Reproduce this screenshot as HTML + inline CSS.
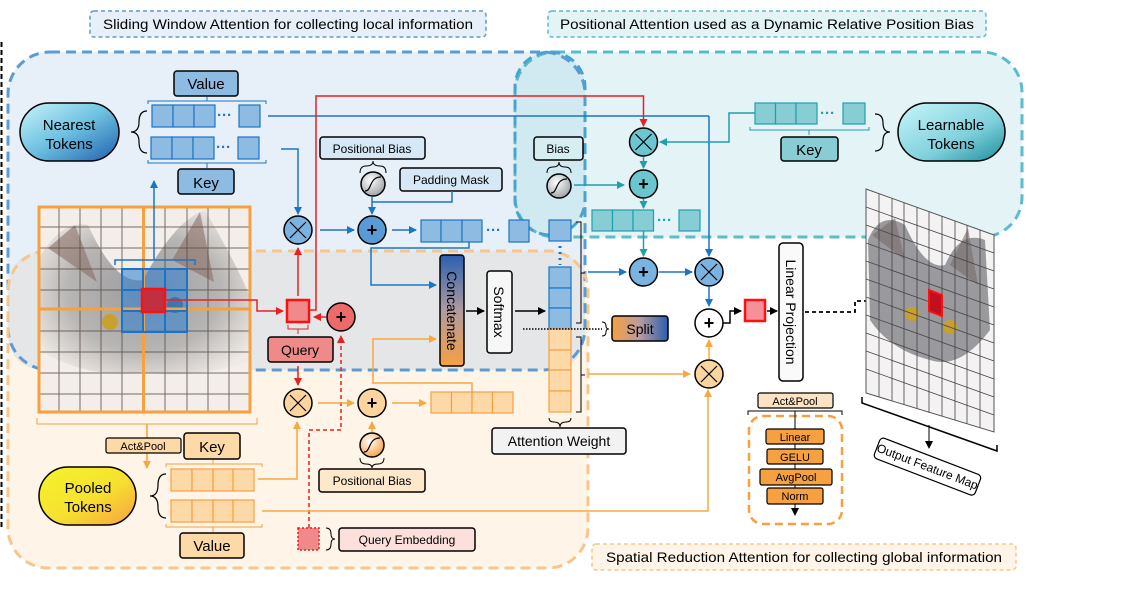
<!DOCTYPE html>
<html><head><meta charset="utf-8"><style>
html,body{margin:0;padding:0;background:#fff;}
svg{display:block;font-family:"Liberation Sans",sans-serif;}
</style></head><body>
<svg width="1124" height="595" viewBox="0 0 1124 595" xmlns="http://www.w3.org/2000/svg">
<defs>
<marker id="ab" markerWidth="8" markerHeight="8" refX="7" refY="4" orient="auto" markerUnits="userSpaceOnUse"><path d="M0,0L8,4L0,8z" fill="#1b75c4"/></marker>
<marker id="ar" markerWidth="8" markerHeight="8" refX="7" refY="4" orient="auto" markerUnits="userSpaceOnUse"><path d="M0,0L8,4L0,8z" fill="#e82020"/></marker>
<marker id="ao" markerWidth="8" markerHeight="8" refX="7" refY="4" orient="auto" markerUnits="userSpaceOnUse"><path d="M0,0L8,4L0,8z" fill="#f7a840"/></marker>
<marker id="at" markerWidth="8" markerHeight="8" refX="7" refY="4" orient="auto" markerUnits="userSpaceOnUse"><path d="M0,0L8,4L0,8z" fill="#1fa0ac"/></marker>
<marker id="ak" markerWidth="8" markerHeight="8" refX="7" refY="4" orient="auto" markerUnits="userSpaceOnUse"><path d="M0,0L8,4L0,8z" fill="#000"/></marker>
<linearGradient id="gn" x1="0" y1="0" x2="1" y2="1"><stop offset="0" stop-color="#c8f4fb"/><stop offset="0.5" stop-color="#6cc0e0"/><stop offset="1" stop-color="#1f5fae"/></linearGradient>
<linearGradient id="gl" x1="0" y1="0" x2="1" y2="1"><stop offset="0" stop-color="#c8f6fa"/><stop offset="0.6" stop-color="#7fd0dc"/><stop offset="1" stop-color="#1a8c99"/></linearGradient>
<linearGradient id="gp" x1="0" y1="0" x2="1" y2="1"><stop offset="0" stop-color="#f4f42a"/><stop offset="0.55" stop-color="#f7e030"/><stop offset="1" stop-color="#f7a040"/></linearGradient>
<linearGradient id="gc" x1="0" y1="0" x2="0" y2="1"><stop offset="0" stop-color="#2a5fae"/><stop offset="0.5" stop-color="#b09aa0"/><stop offset="1" stop-color="#f7a040"/></linearGradient>
<linearGradient id="gs" x1="0" y1="0" x2="1" y2="0"><stop offset="0" stop-color="#f7a040"/><stop offset="0.5" stop-color="#b89aa0"/><stop offset="1" stop-color="#2a5fae"/></linearGradient>
<radialGradient id="cat" cx="0.5" cy="0.5" r="0.6"><stop offset="0" stop-color="#9a9a9e"/><stop offset="0.6" stop-color="#b8b6b4"/><stop offset="1" stop-color="#efeae6"/></radialGradient>
<radialGradient id="sig" cx="0.4" cy="0.35" r="0.7"><stop offset="0" stop-color="#fff"/><stop offset="1" stop-color="#9aa0a4"/></radialGradient>
<radialGradient id="sigo" cx="0.4" cy="0.35" r="0.7"><stop offset="0" stop-color="#fff"/><stop offset="1" stop-color="#f7a040"/></radialGradient>
</defs>

<line x1="1.5" y1="42" x2="1.5" y2="530" stroke="#000" stroke-width="2" stroke-dasharray="5,3"/>

<!-- regions -->
<rect x="8" y="52" width="577" height="318" rx="42" fill="#e7f0f8"/>
<rect x="8" y="251" width="580" height="317" rx="40" fill="#fef4e7"/>
<path d="M8,330 L8,291 Q8,251 48,251 L548,251 Q585,251 585,291 L585,330 Q585,370 545,370 L48,370 Q8,370 8,330 Z" fill="#e4e6e8"/>
<rect x="515" y="52" width="507" height="185" rx="40" fill="#e3f3f6"/>
<rect x="515" y="52" width="70" height="183" rx="35" fill="#d1e9f1"/>
<rect x="8" y="52" width="577" height="318" rx="42" fill="none" stroke="#5b9bd5" stroke-width="3" stroke-dasharray="10,6"/>
<rect x="8" y="251" width="580" height="317" rx="40" fill="none" stroke="#f6c68c" stroke-width="3" stroke-dasharray="10,6"/>
<rect x="515" y="52" width="507" height="185" rx="40" fill="none" stroke="#5bbcc8" stroke-width="3" stroke-dasharray="10,6"/>
<rect x="515" y="52" width="70" height="183" rx="35" fill="none" stroke="#4aa3cf" stroke-width="3" stroke-dasharray="10,6"/>

<!-- titles -->
<rect x="90" y="11" width="396" height="26" rx="4" fill="#e7f0f8" stroke="#5b9bd5" stroke-width="1.5" stroke-dasharray="4,3"/>
<text x="288" y="29" font-size="14" text-anchor="middle" textLength="370" lengthAdjust="spacingAndGlyphs">Sliding Window Attention for collecting local information</text>
<rect x="548" y="11" width="438" height="26" rx="4" fill="#e3f3f6" stroke="#5bbcc8" stroke-width="1.5" stroke-dasharray="4,3"/>
<text x="767" y="29" font-size="14" text-anchor="middle" textLength="414" lengthAdjust="spacingAndGlyphs">Positional Attention used as a Dynamic Relative Position Bias</text>
<rect x="592" y="544" width="424" height="26" rx="4" fill="#fef4e7" stroke="#f6c68c" stroke-width="1.5" stroke-dasharray="4,3"/>
<text x="804" y="562" font-size="14" text-anchor="middle" textLength="396" lengthAdjust="spacingAndGlyphs">Spatial Reduction Attention for collecting global information</text>

<!-- input cat image -->
<rect x="38" y="206" width="213" height="207" fill="#f3eeea"/>
<path d="M38,260 Q60,220 88,225 Q115,285 143,280 Q175,220 205,210 Q240,270 251,300 L251,360 Q200,380 143,372 Q90,380 38,350 Z" fill="url(#cat)"/>
<path d="M48,248 L75,225 L97,282 Z M172,260 L200,212 L214,282 Z" fill="#8a6e68" opacity="0.6"/>
<circle cx="110" cy="322" r="8" fill="#c8a030"/><circle cx="175" cy="305" r="8" fill="#3a6a7a"/>
<g stroke="#5a4a40" stroke-width="1" opacity="0.8">
<path d="M59,206V413M80,206V413M101,206V413M122,206V413M165,206V413M187,206V413M208,206V413M229,206V413"/>
<path d="M38,227H251M38,248H251M38,269H251M38,290H251M38,331H251M38,352H251M38,373H251M38,394H251"/>
</g>
<rect x="122" y="269" width="65" height="63" fill="#3a84d0" opacity="0.6"/>
<rect x="39" y="207" width="211" height="205" fill="none" stroke="#f7a040" stroke-width="3"/>
<line x1="143.5" y1="207" x2="143.5" y2="412" stroke="#f7a040" stroke-width="3"/>
<line x1="39" y1="309" x2="250" y2="309" stroke="#f7a040" stroke-width="3"/>
<g stroke="#1b75c4" stroke-width="2" fill="none"><rect x="122" y="269" width="65" height="63"/><path d="M143,269V332M165,269V332M122,290H187M122,311H187"/></g>
<rect x="142" y="289" width="23" height="23" fill="#c03040" stroke="#ff1010" stroke-width="2.5"/>
<path d="M37,418V424H257V418" fill="none" stroke="#f7a040" stroke-width="1"/>
<path d="M115,265V260H195V265" fill="none" stroke="#1b75c4" stroke-width="1.5"/>
<line x1="154" y1="260" x2="154" y2="181" stroke="#1b75c4" stroke-width="1.5" marker-end="url(#ab)"/>
<line x1="147" y1="424" x2="147" y2="468" stroke="#f7a040" stroke-width="1.5" marker-end="url(#ao)"/>

<!-- Nearest tokens -->
<rect x="20" y="103" width="99" height="58" rx="29" fill="url(#gn)" stroke="#000" stroke-width="1.5"/>
<text x="69" y="130" font-size="15" text-anchor="middle">Nearest</text>
<text x="69" y="149" font-size="15" text-anchor="middle">Tokens</text>
<path d="M147,111 Q139,111 139,122 Q139,132 131,132 Q139,132 139,142 Q139,153 147,153" fill="none" stroke="#000" stroke-width="1.2"/>
<rect x="174" y="71" width="64" height="25" rx="3" fill="#8dbbe2" stroke="#000" stroke-width="1.5"/>
<text x="206" y="89" font-size="15" text-anchor="middle">Value</text>
<rect x="178" y="169" width="56" height="25" rx="3" fill="#8dbbe2" stroke="#000" stroke-width="1.5"/>
<text x="206" y="188" font-size="15" text-anchor="middle">Key</text>
<path d="M148,104V101H266V104M207,101V97" fill="none" stroke="#1b75c4" stroke-width="1"/>
<path d="M148,160V163H266V160M207,163V168" fill="none" stroke="#1b75c4" stroke-width="1"/>
<g fill="#8dbbe2" stroke="#1b75c4" stroke-width="1.2">
<rect x="152" y="105" width="21" height="22"/><rect x="173" y="105" width="21" height="22"/><rect x="194" y="105" width="21" height="22"/><rect x="239" y="105" width="21" height="22"/>
<rect x="151" y="137" width="21" height="22"/><rect x="172" y="137" width="21" height="22"/><rect x="193" y="137" width="21" height="22"/><rect x="238" y="137" width="21" height="22"/>
</g>
<text x="217" y="120" font-size="15" fill="#1b75c4" font-weight="bold">···</text>
<text x="216" y="152" font-size="15" fill="#1b75c4" font-weight="bold">···</text>

<!-- blue path -->
<line x1="268" y1="116" x2="709" y2="116" stroke="#1b75c4" stroke-width="1.5"/>
<path d="M709,116V256" fill="none" stroke="#1b75c4" stroke-width="1.5" marker-end="url(#ab)"/>
<path d="M281,149H298V214" fill="none" stroke="#1b75c4" stroke-width="1.5" marker-end="url(#ab)"/>
<circle cx="298" cy="230" r="14" fill="#7ab3e0" stroke="#000" stroke-width="1.5"/>
<path d="M290,222L306,238M306,222L290,238" stroke="#000" stroke-width="1.2"/>
<line x1="320" y1="230" x2="354" y2="230" stroke="#1b75c4" stroke-width="1.5" marker-end="url(#ab)"/>
<circle cx="372" cy="230" r="14" fill="#5b9bd5" stroke="#000" stroke-width="1.5"/>
<text x="372" y="236" font-size="18" text-anchor="middle" font-weight="bold">+</text>
<line x1="392" y1="230" x2="416" y2="230" stroke="#1b75c4" stroke-width="1.5" marker-end="url(#ab)"/>
<g fill="#8dbbe2" stroke="#1b75c4" stroke-width="1.2">
<rect x="421" y="220" width="20" height="22"/><rect x="441" y="220" width="21" height="22"/><rect x="462" y="220" width="20" height="22"/><rect x="509" y="220" width="20" height="22"/>
</g>
<text x="486" y="235" font-size="15" fill="#1b75c4" font-weight="bold">···</text>

<!-- Positional Bias / Padding Mask top -->
<rect x="320" y="137" width="105" height="22" rx="3" fill="#d6e8f6" stroke="#000" stroke-width="1.5"/>
<text x="372" y="153" font-size="12" text-anchor="middle">Positional Bias</text>
<path d="M360,173 Q360,166 366,166 Q373,166 373,161 Q373,166 380,166 Q386,166 386,173" fill="none" stroke="#000" stroke-width="1"/>
<circle cx="373" cy="184" r="12" fill="url(#sig)" stroke="#000" stroke-width="1.5"/>
<path d="M365,191 C372,191 369,177 381,177" fill="none" stroke="#000" stroke-width="1.2"/>
<rect x="400" y="168" width="102" height="23" rx="3" fill="#d6e8f6" stroke="#000" stroke-width="1.5"/>
<text x="451" y="184" font-size="12" text-anchor="middle">Padding Mask</text>
<path d="M452,191V202H372" fill="none" stroke="#1b75c4" stroke-width="1.5"/>
<line x1="372" y1="197" x2="372" y2="214" stroke="#1b75c4" stroke-width="1.5" marker-end="url(#ab)"/>

<path d="M469,242V248H371V285H436" fill="none" stroke="#1b75c4" stroke-width="1.5" marker-end="url(#ab)"/>

<!-- Query & red -->
<path d="M165,300H257V311H283" fill="none" stroke="#e82020" stroke-width="1.5" marker-end="url(#ar)"/>
<rect x="287" y="300" width="22" height="22" fill="#f08a8a" stroke="#ff1010" stroke-width="2.5"/>
<line x1="298" y1="296" x2="298" y2="248" stroke="#e82020" stroke-width="1.5" marker-end="url(#ar)"/>
<path d="M310,310H316V96H643.5V126" fill="none" stroke="#e82020" stroke-width="1.5" marker-end="url(#ar)"/>
<circle cx="341" cy="317" r="14" fill="#ec6a6a" stroke="#000" stroke-width="1.5"/>
<text x="341" y="323" font-size="18" text-anchor="middle" font-weight="bold">+</text>
<line x1="326" y1="317" x2="314" y2="317" stroke="#e82020" stroke-width="1.5" marker-end="url(#ar)"/>
<path d="M288,325V329H308V325M298,329V334" fill="none" stroke="#e82020" stroke-width="1"/>
<rect x="268" y="337" width="65" height="25" rx="3" fill="#ee8a8a" stroke="#000" stroke-width="1.5"/>
<text x="300" y="355" font-size="14" text-anchor="middle">Query</text>
<line x1="298" y1="366" x2="298" y2="385" stroke="#e82020" stroke-width="1.5" marker-end="url(#ar)"/>
<path d="M309,528V430H341V336" fill="none" stroke="#e82020" stroke-width="1.5" stroke-dasharray="4,3" marker-end="url(#ar)"/>

<!-- orange path -->
<circle cx="298" cy="403" r="14" fill="#fcd59e" stroke="#000" stroke-width="1.5"/>
<path d="M290,395L306,411M306,395L290,411" stroke="#000" stroke-width="1.2"/>
<line x1="318" y1="403" x2="354" y2="403" stroke="#f7a840" stroke-width="1.5" marker-end="url(#ao)"/>
<circle cx="372" cy="403" r="14" fill="#fcd59e" stroke="#000" stroke-width="1.5"/>
<text x="372" y="409" font-size="18" text-anchor="middle" font-weight="bold">+</text>
<line x1="392" y1="403" x2="426" y2="403" stroke="#f7a840" stroke-width="1.5" marker-end="url(#ao)"/>
<g fill="#fdd9a8" stroke="#f7a040" stroke-width="1.2">
<rect x="431" y="392" width="20.5" height="21"/><rect x="451.5" y="392" width="20.5" height="21"/><rect x="472" y="392" width="20.5" height="21"/><rect x="492.5" y="392" width="20.5" height="21"/>
</g>
<path d="M472,392V383H373V339H436" fill="none" stroke="#f7a840" stroke-width="1.5" marker-end="url(#ao)"/>
<line x1="372" y1="432" x2="372" y2="422" stroke="#f7a840" stroke-width="1.5" marker-end="url(#ao)"/>
<circle cx="372" cy="445" r="12" fill="url(#sigo)" stroke="#000" stroke-width="1.5"/>
<path d="M364,452 C371,452 368,438 380,438" fill="none" stroke="#000" stroke-width="1.2"/>
<path d="M360,458 Q360,464 366,464 Q372,464 372,468 Q372,464 378,464 Q384,464 384,458" fill="none" stroke="#000" stroke-width="1"/>
<rect x="319" y="469" width="106" height="23" rx="3" fill="#fde8cc" stroke="#000" stroke-width="1.5"/>
<text x="372" y="485" font-size="12" text-anchor="middle">Positional Bias</text>
<path d="M258,479H297V422" fill="none" stroke="#f7a840" stroke-width="1.5" marker-end="url(#ao)"/>

<!-- Pooled tokens -->
<rect x="39" y="467" width="97" height="58" rx="29" fill="url(#gp)" stroke="#000" stroke-width="1.5"/>
<text x="88" y="493" font-size="15" text-anchor="middle">Pooled</text>
<text x="88" y="512" font-size="15" text-anchor="middle">Tokens</text>
<path d="M166,474 Q158,474 158,485 Q158,496 150,496 Q158,496 158,507 Q158,518 166,518" fill="none" stroke="#000" stroke-width="1.2"/>
<rect x="106" y="438" width="75" height="15" rx="2" fill="#fdd9a8" stroke="#000" stroke-width="1.2"/>
<text x="143" y="450" font-size="11" text-anchor="middle">Act&amp;Pool</text>
<rect x="184" y="433" width="56" height="26" rx="3" fill="#fdd9a8" stroke="#000" stroke-width="1.5"/>
<text x="212" y="452" font-size="15" text-anchor="middle">Key</text>
<path d="M166,467V464H262V467M213,464V460" fill="none" stroke="#f7a040" stroke-width="1"/>
<g fill="#fdd9a8" stroke="#f7a040" stroke-width="1.2">
<rect x="171" y="469" width="21" height="22"/><rect x="192" y="469" width="21" height="22"/><rect x="213" y="469" width="20" height="22"/><rect x="233" y="469" width="21" height="22"/>
<rect x="171" y="500" width="21" height="22"/><rect x="192" y="500" width="21" height="22"/><rect x="213" y="500" width="20" height="22"/><rect x="233" y="500" width="21" height="22"/>
</g>
<path d="M166,524V527H262V524M213,527V532" fill="none" stroke="#f7a040" stroke-width="1"/>
<rect x="180" y="533" width="64" height="25" rx="3" fill="#fdd9a8" stroke="#000" stroke-width="1.5"/>
<text x="212" y="551" font-size="15" text-anchor="middle">Value</text>
<path d="M262,511H708V390" fill="none" stroke="#f7a840" stroke-width="1.5" marker-end="url(#ao)"/>

<!-- Query embedding -->
<rect x="298" y="528" width="21" height="22" fill="#f08a8a" stroke="#e82020" stroke-width="1.5" stroke-dasharray="2,2"/>
<path d="M326,528 Q331,528 331,534 Q331,539 335,539 Q331,539 331,544 Q331,550 326,550" fill="none" stroke="#000" stroke-width="1"/>
<rect x="339" y="528" width="136" height="23" rx="3" fill="#fde0dc" stroke="#000" stroke-width="1.5"/>
<text x="407" y="544" font-size="12" text-anchor="middle">Query Embedding</text>

<!-- Concatenate / Softmax -->
<rect x="440" y="255" width="24" height="111" rx="3" fill="url(#gc)" stroke="#000" stroke-width="1.5"/>
<text transform="translate(447,311) rotate(90)" font-size="14" text-anchor="middle">Concatenate</text>
<line x1="466" y1="311" x2="484" y2="311" stroke="#000" stroke-width="1.5" marker-end="url(#ak)"/>
<rect x="487" y="271" width="25" height="82" rx="3" fill="#f7f7f7" stroke="#000" stroke-width="1.5"/>
<text transform="translate(494,312) rotate(90)" font-size="14" text-anchor="middle">Softmax</text>
<line x1="515" y1="311" x2="545" y2="311" stroke="#000" stroke-width="1.5" marker-end="url(#ak)"/>

<!-- attention weight column -->
<g fill="#8dbbe2" stroke="#1b75c4" stroke-width="1.2">
<rect x="549" y="220" width="22" height="21"/>
<rect x="549" y="267" width="22" height="21"/><rect x="549" y="288" width="22" height="20"/><rect x="549" y="308" width="22" height="21"/>
</g>
<line x1="560" y1="246" x2="560" y2="265" stroke="#1b75c4" stroke-width="3" stroke-dasharray="2,4"/>
<g fill="#fdd9a8" stroke="#f7a040" stroke-width="1.2">
<rect x="549" y="329" width="22" height="21"/><rect x="549" y="350" width="22" height="20"/><rect x="549" y="370" width="22" height="21"/><rect x="549" y="391" width="22" height="21"/>
</g>
<path d="M576,222H581V323H576M581,273H585" fill="none" stroke="#000" stroke-width="1"/>
<path d="M576,337H581V412H576M581,375H585" fill="none" stroke="#000" stroke-width="1"/>
<path d="M549,418 Q549,422 554,422 Q560,422 560,427 Q560,422 566,422 Q571,422 571,418" fill="none" stroke="#000" stroke-width="1"/>
<rect x="492" y="428" width="134" height="26" rx="3" fill="#f2f2f2" stroke="#000" stroke-width="1.5"/>
<text x="559" y="446" font-size="14" text-anchor="middle">Attention Weight</text>
<line x1="523" y1="329" x2="602" y2="329" stroke="#000" stroke-width="1.5" stroke-dasharray="1.5,1.5"/>
<path d="M602,322 Q606,322 606,326 Q606,329 609,329 Q606,329 606,332 Q606,336 602,336" fill="none" stroke="#000" stroke-width="1"/>
<rect x="612" y="316" width="56" height="25" rx="3" fill="url(#gs)" stroke="#000" stroke-width="1.5"/>
<text x="640" y="334" font-size="14" text-anchor="middle">Split</text>
<line x1="588" y1="272" x2="626" y2="272" stroke="#1b75c4" stroke-width="1.5" marker-end="url(#ab)"/>
<line x1="588" y1="374" x2="690" y2="374" stroke="#f7a840" stroke-width="1.5" marker-end="url(#ao)"/>

<!-- teal part -->
<rect x="534" y="137" width="49" height="23" rx="3" fill="#d6eef2" stroke="#000" stroke-width="1.5"/>
<text x="558" y="153" font-size="12" text-anchor="middle">Bias</text>
<path d="M547,173 Q547,167 553,167 Q559,167 559,162 Q559,167 565,167 Q571,167 571,173" fill="none" stroke="#000" stroke-width="1"/>
<circle cx="559" cy="186" r="12" fill="url(#sig)" stroke="#000" stroke-width="1.5"/>
<path d="M551,193 C558,193 555,179 567,179" fill="none" stroke="#000" stroke-width="1.2"/>
<line x1="574" y1="185" x2="624" y2="185" stroke="#1fa0ac" stroke-width="1.5" marker-end="url(#at)"/>
<circle cx="643.5" cy="142" r="14" fill="#6cc6d0" stroke="#000" stroke-width="1.5"/>
<path d="M635.5,134L651.5,150M651.5,134L635.5,150" stroke="#000" stroke-width="1.2"/>
<line x1="643.5" y1="157" x2="643.5" y2="168" stroke="#1fa0ac" stroke-width="1.5" marker-end="url(#at)"/>
<circle cx="643.5" cy="184" r="14" fill="#6cc6d0" stroke="#000" stroke-width="1.5"/>
<text x="643.5" y="190" font-size="18" text-anchor="middle" font-weight="bold">+</text>
<line x1="643.5" y1="199" x2="643.5" y2="208" stroke="#1fa0ac" stroke-width="1.5" marker-end="url(#at)"/>
<g fill="#88ccd4" stroke="#1fa0ac" stroke-width="1.2">
<rect x="592" y="210" width="20.5" height="21"/><rect x="612.5" y="210" width="20.5" height="21"/><rect x="633" y="210" width="20.5" height="21"/><rect x="679" y="210" width="21" height="21"/>
</g>
<text x="657" y="225" font-size="15" fill="#1fa0ac" font-weight="bold">···</text>
<line x1="643.5" y1="231" x2="643.5" y2="256" stroke="#1fa0ac" stroke-width="1.5" marker-end="url(#at)"/>
<path d="M755,113H729V142H660" fill="none" stroke="#1fa0ac" stroke-width="1.5" marker-end="url(#at)"/>
<g fill="#88ccd4" stroke="#1fa0ac" stroke-width="1.2">
<rect x="755" y="103" width="20.5" height="21"/><rect x="775.5" y="103" width="20.5" height="21"/><rect x="796" y="103" width="21" height="21"/><rect x="843" y="103" width="22" height="21"/>
</g>
<text x="820" y="118" font-size="15" fill="#1fa0ac" font-weight="bold">···</text>
<path d="M750,127V130H869V127M809,130V135" fill="none" stroke="#1fa0ac" stroke-width="1"/>
<rect x="781" y="137" width="57" height="24" rx="3" fill="#88ccd4" stroke="#000" stroke-width="1.5"/>
<text x="809" y="155" font-size="15" text-anchor="middle">Key</text>
<path d="M875,114 Q883,114 883,123 Q883,132 890,132 Q883,132 883,141 Q883,151 875,151" fill="none" stroke="#000" stroke-width="1.2"/>
<rect x="898" y="103" width="107" height="58" rx="29" fill="url(#gl)" stroke="#000" stroke-width="1.5"/>
<text x="951" y="130" font-size="15" text-anchor="middle">Learnable</text>
<text x="951" y="149" font-size="15" text-anchor="middle">Tokens</text>

<!-- right combine -->
<circle cx="643.5" cy="272" r="14" fill="#7ab3e0" stroke="#000" stroke-width="1.5"/>
<text x="643.5" y="278" font-size="18" text-anchor="middle" font-weight="bold">+</text>
<line x1="659" y1="272" x2="692" y2="272" stroke="#1b75c4" stroke-width="1.5" marker-end="url(#ab)"/>
<circle cx="709" cy="272" r="14" fill="#7ab3e0" stroke="#000" stroke-width="1.5"/>
<path d="M701,264L717,280M717,264L701,280" stroke="#000" stroke-width="1.2"/>
<line x1="709" y1="287" x2="709" y2="306" stroke="#1b75c4" stroke-width="1.5" marker-end="url(#ab)"/>
<circle cx="709" cy="323" r="14" fill="#fff" stroke="#000" stroke-width="1.5"/>
<text x="709" y="329" font-size="18" text-anchor="middle" font-weight="bold">+</text>
<line x1="709" y1="359" x2="709" y2="340" stroke="#f7a840" stroke-width="1.5" marker-end="url(#ao)"/>
<circle cx="709" cy="374" r="14" fill="#fcd59e" stroke="#000" stroke-width="1.5"/>
<path d="M701,366L717,382M717,366L701,382" stroke="#000" stroke-width="1.2"/>
<path d="M723,323H730V311H741" fill="none" stroke="#000" stroke-width="1.5" marker-end="url(#ak)"/>
<rect x="745" y="300" width="20" height="21" fill="#f5909a" stroke="#ff1010" stroke-width="2.5"/>
<line x1="767" y1="311" x2="777" y2="311" stroke="#000" stroke-width="1.5" marker-end="url(#ak)"/>
<rect x="779" y="243" width="24" height="138" rx="4" fill="#fafafa" stroke="#000" stroke-width="1.5"/>
<text transform="translate(786,312) rotate(90)" font-size="14" text-anchor="middle">Linear Projection</text>
<path d="M805,312H855V301H925" fill="none" stroke="#000" stroke-width="1.8" stroke-dasharray="4,3" marker-end="url(#ak)"/>

<!-- act & pool block -->
<rect x="758" y="393" width="75" height="15" rx="2" fill="#fde2c4" stroke="#000" stroke-width="1.2"/>
<text x="795" y="405" font-size="11" text-anchor="middle">Act&amp;Pool</text>
<path d="M748,415V411H842V415" fill="none" stroke="#000" stroke-width="1"/>
<rect x="749" y="416" width="93" height="108" rx="14" fill="none" stroke="#f7a040" stroke-width="2.5" stroke-dasharray="8,5"/>
<line x1="795" y1="411" x2="795" y2="515" stroke="#000" stroke-width="1" marker-end="url(#ak)"/>
<g fill="#f7a040" stroke="#000" stroke-width="1.2">
<rect x="766" y="429" width="58" height="15" rx="2"/><rect x="767" y="449" width="56" height="15" rx="2"/><rect x="760" y="469" width="72" height="16" rx="2"/><rect x="767" y="488" width="56" height="16" rx="2"/>
</g>
<g font-size="11" text-anchor="middle"><text x="795" y="441">Linear</text><text x="795" y="461">GELU</text><text x="796" y="481">AvgPool</text><text x="795" y="500">Norm</text></g>

<!-- output feature map -->
<path d="M866,189L994,235V432L866,393Z" fill="#f4f2f2"/>
<path d="M868,240 Q880,210 905,225 Q925,270 945,265 Q960,230 985,240 L990,330 Q960,370 930,360 Q890,350 870,320 Z" fill="#9a9a9e"/>
<path d="M872,235L895,218L905,260Z M950,265L968,228L978,285Z" fill="#7a6a6a" opacity="0.6"/>
<circle cx="912" cy="314" r="7" fill="#c8a030"/><circle cx="950" cy="327" r="7" fill="#c8a030"/>
<g stroke="#444" stroke-width="0.8">
<path d="M879,194V397M892,198V401M904,203V405M917,207V409M929,212V413M942,216V416M955,221V420M967,225V424M980,230V428"/>
<path d="M866,207L994,253M866,225L994,271M866,243L994,289M866,261L994,307M866,279L994,325M866,297L994,343M866,315L994,361M866,333L994,379M866,351L994,397M866,369L994,415"/>
</g>
<path d="M866,189L994,235V432L866,393Z" fill="none" stroke="#555" stroke-width="1"/>
<path d="M929,290L942,295V316L929,311Z" fill="#c01020" stroke="#ff1010" stroke-width="2"/>
<path d="M862,397V403L997,451V445" fill="none" stroke="#000" stroke-width="1.5"/>
<line x1="929" y1="425" x2="929" y2="448" stroke="#000" stroke-width="1" marker-end="url(#ak)"/>
<g transform="translate(881,437) rotate(21)">
<rect x="0" y="0" width="108" height="22" rx="4" fill="#fff" stroke="#000" stroke-width="1.2"/>
<text x="54" y="15" font-size="12" text-anchor="middle">Output Feature Map</text>
</g>
</svg>
</body></html>
